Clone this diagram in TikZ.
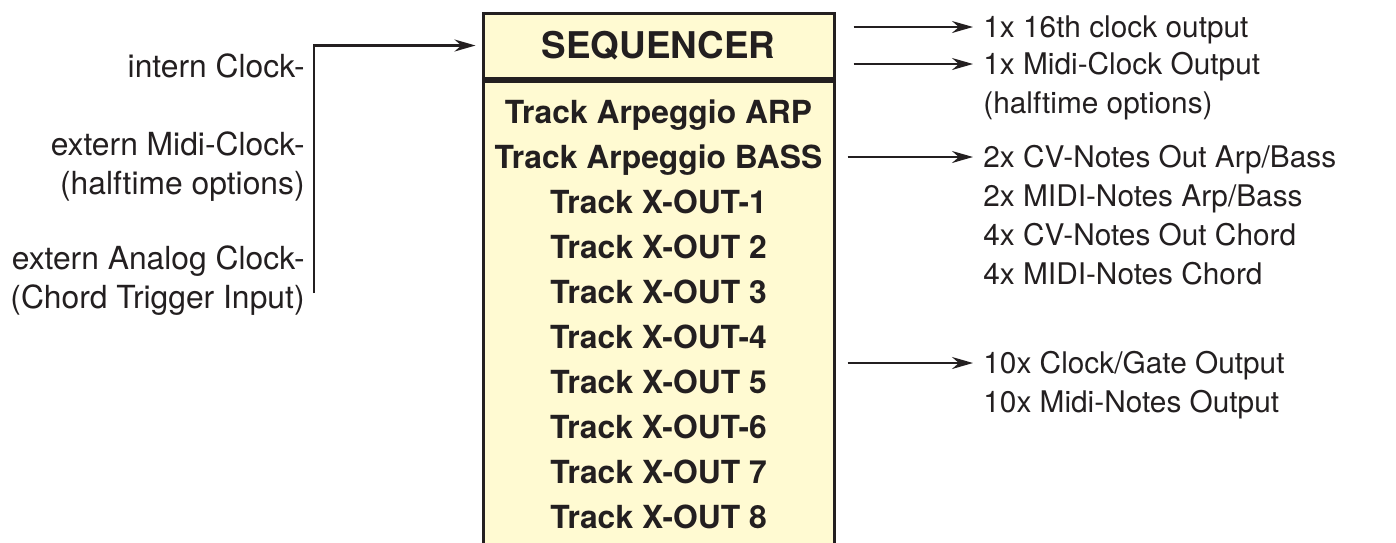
\documentclass[tikz,border=0pt]{standalone}
\usepackage{fontspec}
\setmainfont{TeX Gyre Heros}
\usetikzlibrary{positioning,arrows.meta}
\definecolor{ink}{HTML}{231F20}
\definecolor{seqfill}{HTML}{FFFAD2}

\tikzset{
  box/.style={draw=ink, line width=1.5pt, fill=seqfill, minimum width=175.5pt, inner sep=0pt},
  txt/.style={text=ink, inner sep=0pt, text height=10.7pt, text depth=0pt,
    font=\fontsize{14.9pt}{19pt}\selectfont},
  src/.style={txt, text height=11.4pt, font=\fontsize{15.9pt}{19pt}\selectfont},
  track/.style={txt, text height=11.4pt, font=\bfseries\fontsize{15.9pt}{19pt}\selectfont},
  link/.style={->, draw=ink, line width=1pt}
}

\begin{document}
\begin{tikzpicture}[x=0.5pt, y=-0.5pt, >={Stealth[length=10.5pt,width=6pt]}]
\path[use as bounding box, clip] (0,0) rectangle (1396,542);

% sequencer box
\node[box, minimum height=32.5pt, text=ink, text height=13.2pt, text depth=0pt,
  font=\bfseries\fontsize{18.4pt}{22pt}\selectfont] (seq) at (658.5,45.5) {SEQUENCER};
\node[box, minimum height=270pt, below=0pt of seq] (tracks) {};

\foreach \i/\lbl in {1/Track Arpeggio ARP, 2/Track Arpeggio BASS, 3/Track X-OUT-1,
  4/Track X-OUT 2, 5/Track X-OUT 3, 6/Track X-OUT-4, 7/Track X-OUT 5,
  8/Track X-OUT-6, 9/Track X-OUT 7, 10/Track X-OUT 8}
  \node[track] (t\i) at (658.5,{112.5+45*(\i-1)}) {\lbl};

% clock sources
\node[src, anchor=east] (intclk) at (305,66.5) {intern Clock-};
\node[src, anchor=east] (midiclk) at (305,144.5) {extern Midi-Clock-};
\node[src, below=7.6pt of midiclk.south east, anchor=north east] (midihalf) {(halftime options)};
\node[src, anchor=east] (anaclk) at (305,258.5) {extern Analog Clock-};
\node[src, below=7.6pt of anaclk.south east, anchor=north east] (chordtrig) {(Chord Trigger Input)};

\coordinate (brk) at (314,293);
\draw[link, line width=1.2pt, shorten >=3pt] (brk) |- (seq.west);

% outputs
\node[txt, anchor=west] (o1) at (983,27) {1x 16th clock output};
\node[txt, anchor=west] (o2) at (983,64) {1x Midi-Clock Output};
\node[txt, below=8.3pt of o2.south west, anchor=north west] (o3) {(halftime options)};
\node[txt, anchor=west] (o4) at (983,157) {2x CV-Notes Out Arp/Bass};
\node[txt, below=8.3pt of o4.south west, anchor=north west] (o5) {2x MIDI-Notes Arp/Bass};
\node[txt, below=8.3pt of o5.south west, anchor=north west] (o6) {4x CV-Notes Out Chord};
\node[txt, below=8.3pt of o6.south west, anchor=north west] (o7) {4x MIDI-Notes Chord};
\node[txt, anchor=west] (o8) at (983,363) {10x Clock/Gate Output};
\node[txt, below=8.3pt of o8.south west, anchor=north west] (o9) {10x Midi-Notes Output};

\draw[link, shorten <=9pt, shorten >=5pt] (o1.west -| seq.east) -- (o1.west);
\draw[link, shorten <=9pt, shorten >=5pt] (o2.west -| seq.east) -- (o2.west);
\draw[link, shorten <=6pt, shorten >=5pt] (o4.west -| tracks.east) -- (o4.west);
\draw[link, shorten <=6pt, shorten >=5pt] (o8.west -| tracks.east) -- (o8.west);
\end{tikzpicture}
\end{document}
